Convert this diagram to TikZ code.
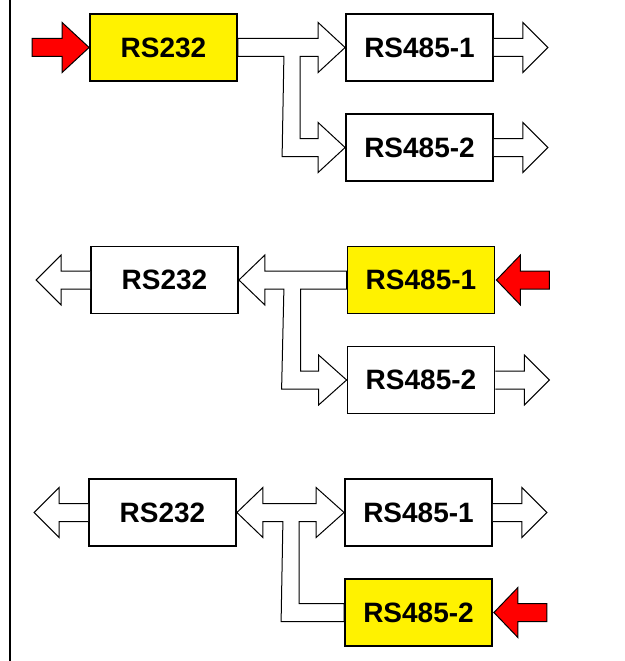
\documentclass[tikz,border=0pt]{standalone}
\usepackage{fontspec}
\setmainfont{Liberation Sans}
\usetikzlibrary{calc, backgrounds}

\begin{document}
\begin{tikzpicture}[x=1pt, y=-1pt,
    box/.style={draw, line width=1.8pt, fill=white, minimum width=147pt,
      minimum height=67pt, inner sep=0pt,
      font=\fontsize{28}{30}\selectfont\bfseries},
    active/.style={box, fill=yellow},
    hollow/.style={draw, line width=1pt, fill=white, line join=miter},
    feed/.style={draw, line width=1pt, fill=red, line join=miter}]
    \useasboundingbox (0,0) rectangle (624,661);
    \draw[line width=2pt] (10,0) -- (10,661);

    % top: RS232 feeds both RS485
    \node[active] (a1) at (163.5,47.5)  {RS232};
    \node[box]    (b1) at (419.5,47.5)  {RS485-1};
    \node[box]    (c1) at (419.5,147.5) {RS485-2};
    % middle: RS485-1 feeds
    \node[box]    (a2) at (164.5,280)   {RS232};
    \node[active] (b2) at (421,280)     {RS485-1};
    \node[box]    (c2) at (421,380)     {RS485-2};
    % bottom: RS485-2 feeds
    \node[box]    (a3) at (162.5,512.5) {RS232};
    \node[box]    (b3) at (418.5,512.5) {RS485-1};
    \node[active] (c3) at (418.5,612.5) {RS485-2};

    \begin{scope}[on background layer]
      % top
      \draw[hollow] ($(a1.east)+(0,-9)$) -- ($(b1.west)+(-27,-9)$) -- ++(0,-16)
        -- (b1.west) -- ++(-27,25) -- ++(0,-16) -- ++(-18,0)
        -- ($(c1.west)+(-45,-9)$) -- ++(18,0) -- ++(0,-16) -- (c1.west)
        -- ++(-27,25) -- ++(0,-16) -- ++(-36,0) -- ($(a1.east)+(46,9)$)
        -- ($(a1.east)+(0,9)$) -- cycle;
      % middle
      \draw[hollow] (a2.east) -- ++(26,-25) -- ++(0,16) -- ($(b2.west)+(0,-9)$)
        -- ($(b2.west)+(0,9)$) -- ($(b2.west)+(-46,9)$)
        -- ($(c2.west)+(-46,-9)$) -- ++(18,0) -- ++(0,-16) -- (c2.west)
        -- ++(-28,25) -- ++(0,-16) -- ++(-37,0) -- ($(a2.east)+(45,9)$)
        -- ++(-19,0) -- ++(0,16) -- cycle;
      % bottom
      \draw[hollow] (a3.east) -- ++(26,-25) -- ++(0,16) -- ($(b3.west)+(-28,-9)$)
        -- ++(0,-16) -- (b3.west) -- ++(-28,25) -- ++(0,-16)
        -- ($(b3.west)+(-45,9)$) -- ($(c3.west)+(-45,-9)$)
        -- ($(c3.west)+(0,-9)$) -- ($(c3.west)+(0,9)$) -- ($(c3.west)+(-63,9)$)
        -- ($(a3.east)+(46,9)$) -- ++(-20,0) -- ++(0,16) -- cycle;
    \end{scope}

    % outputs
    \foreach \n in {b1, c1, c2, b3}
      \draw[hollow] ($(\n.east)+(0,-9)$) -- ++(29,0) -- ++(0,-16) -- ++(25,25)
        -- ++(-25,25) -- ++(0,-16) -- ++(-29,0);
    \foreach \n in {a2, a3}
      \draw[hollow] ($(\n.west)+(0,-9)$) -- ++(-29,0) -- ++(0,-16) -- ++(-25,25)
        -- ++(25,25) -- ++(0,-16) -- ++(29,0);

    % inputs
    \draw[feed] (a1.west) -- ++(-27,-25) -- ++(0,16) -- ++(-30,0) -- ++(0,18)
      -- ++(30,0) -- ++(0,16) -- cycle;
    \foreach \n in {b2, c3}
      \draw[feed] ($(\n.east)+(1,0)$) -- ++(24,-25) -- ++(0,16) -- ++(29,0)
        -- ++(0,18) -- ++(-29,0) -- ++(0,16) -- cycle;
\end{tikzpicture}
\end{document}
